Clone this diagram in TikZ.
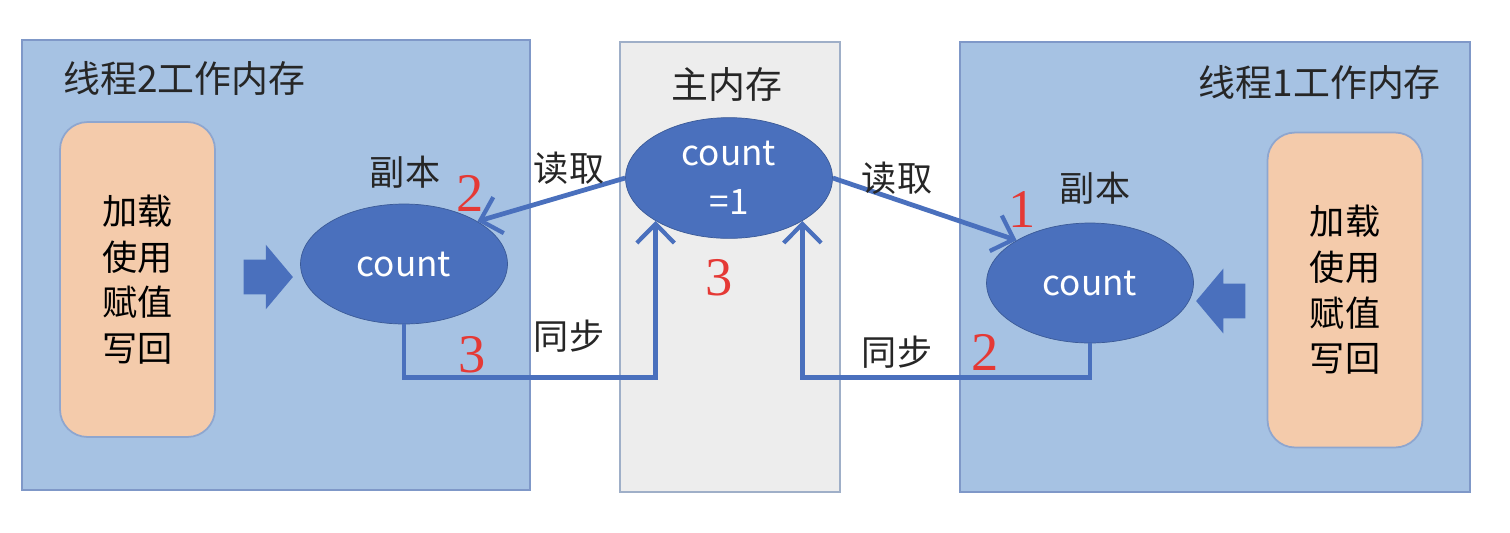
\documentclass[tikz,border=0pt]{standalone}
\usepackage{fontspec}
\setmainfont{Noto Sans CJK SC}
\newfontfamily\numfont{Liberation Serif}
\usepackage{xcolor}
\usetikzlibrary{shapes.geometric,shapes.arrows,arrows.meta}

\definecolor{memblue}{HTML}{A6C2E3}
\definecolor{memedge}{HTML}{7F98C8}
\definecolor{mainfill}{HTML}{EDEDED}
\definecolor{mainedge}{HTML}{9FAFC8}
\definecolor{opfill}{HTML}{F4CBAB}
\definecolor{opedge}{HTML}{8EA6CF}
\definecolor{varblue}{HTML}{4A70BD}
\definecolor{stepred}{HTML}{E53935}

\tikzset{
  membox/.style={draw=memedge, line width=1.2pt, fill=memblue, minimum width=10.16cm, minimum height=9cm},
  opbox/.style={draw=opedge, line width=1pt, fill=opfill, rounded corners=0.55cm, minimum width=3.1cm, minimum height=6.3cm, align=center, font=\fontsize{20}{26}\selectfont},
  var/.style={ellipse, fill=varblue, draw=varblue!80!black, line width=0.4pt, minimum width=4.14cm, minimum height=2.4cm, text=white, align=center, font=\fontsize{20}{24}\selectfont},
  lbl/.style={font=\fontsize{20}{24}\selectfont, text=black!85},
  stepno/.style={text=stepred, font=\numfont\fontsize{31}{31}\selectfont},
  flow/.style={draw=varblue, line width=2.7pt, -{Straight Barb[length=3.8mm,width=7.5mm,line width=2.4pt]}},
  push/.style={single arrow, fill=varblue, draw=none, inner sep=0.34cm, minimum height=0.92cm, single arrow head extend=0.3cm, single arrow tip angle=100}
}

\begin{document}
\begin{tikzpicture}[x=0.02cm, y=-0.02cm]
  \useasboundingbox[fill=white] (0,0) rectangle (1510,532);

  % three memories
  \node[membox] (thread2) at (276,265) {};
  \node[draw=mainedge, line width=1.2pt, fill=mainfill, minimum width=4.4cm, minimum height=9cm] (mainmem) at (730,267) {};
  \node[membox, minimum width=10.2cm] (thread1) at (1215,267) {};

  \node[lbl, anchor=west, font=\fontsize{21}{26}\selectfont] (title2) at (57,78) {线程2工作内存};
  \node[lbl, anchor=east, font=\fontsize{21}{26}\selectfont] (title1) at (1447,82) {线程1工作内存};
  \node[lbl, font=\fontsize{21}{26}\selectfont] (titlem) at (727,85) {主内存};

  \node[opbox] (ops2) at (137.5,279.5) {加载\\使用\\赋值\\写回};
  \node[opbox] (ops1) at (1345,290) {加载\\使用\\赋值\\写回};

  \node[push] (push2) at (261,277) {};
  \node[push, shape border rotate=180] (push1) at (1228,301) {};

  \node[var] (copy2) at (404,264) {count};
  \node[var, font=\fontsize{20}{28}\selectfont] (main) at (729,178) {count\\=1};
  \node[var] (copy1) at (1090,283) {count};

  \node[lbl] (copylbl2) at (405,172) {副本};
  \node[lbl] (copylbl1) at (1095,188) {副本};

  % read and sync
  \draw[flow] (main.west) -- (copy2.north east);
  \draw[flow] (main.east) -- (copy1.north west);
  \draw[flow] (copy2.south) -- ++(0,53) -| (main.south west);
  \draw[flow] (copy1.south) -- ++(0,34) -| (main.south east);

  \node[lbl] (read2) at (569,168) {读取};
  \node[lbl] (read1) at (897,178) {读取};
  \node[lbl] (sync2) at (569,336) {同步};
  \node[lbl] (sync1) at (897,352) {同步};

  \node[stepno] (n2a) at (470,193) {2};
  \node[stepno] (n3a) at (472,355) {3};
  \node[stepno] (n3b) at (719,278) {3};
  \node[stepno] (n1) at (1022,210) {1};
  \node[stepno] (n2b) at (985,352) {2};
\end{tikzpicture}
\end{document}
